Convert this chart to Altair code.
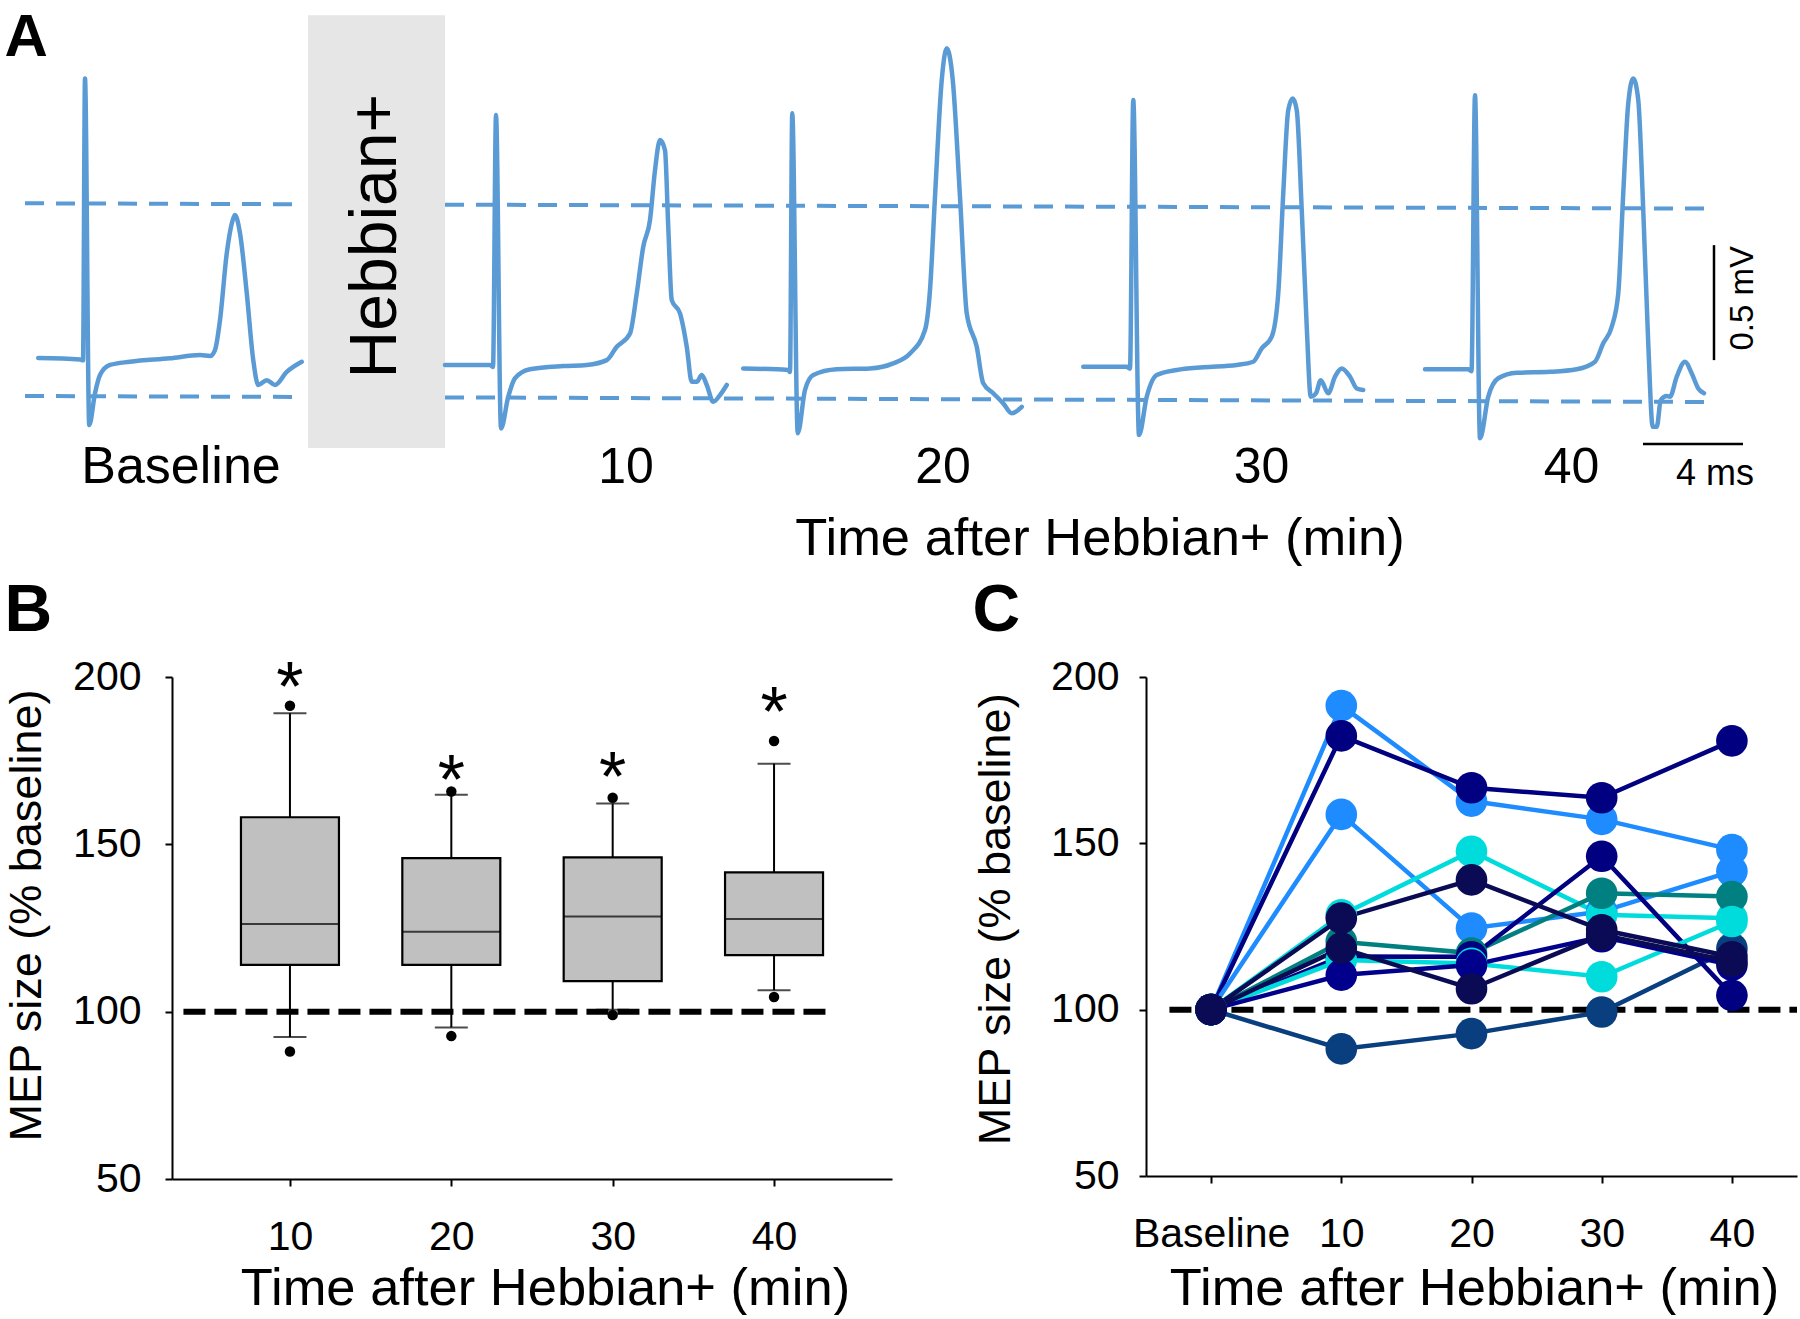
import altair as alt
import pandas as pd

FONT = "Liberation Sans"
TRACE_BLUE = "#5b9bd5"

# ---------------------------------------------------------------------------
# Panel A: single MEP sweeps (time in ms from the stimulus artefact, mV)
# ---------------------------------------------------------------------------
sweep_names = ["Baseline", "10", "20", "30", "40"]
sweep_onsets_ms = [3.4, 19.84, 31.69, 45.33, 59.0]

baseline_t = [-1.87, -0.2, -0.08, 0.0, 0.17, 0.4, 0.6, 1.0, 1.8, 3.4, 4.6, 5.0, 5.2, 5.4,
              5.67, 5.93, 6.0, 6.2, 6.47, 6.73, 6.93, 7.27, 7.6, 8.07, 8.67]
baseline_mv = [0.0, -0.006, -0.01, 1.216, -0.291, -0.153, -0.074, -0.03, -0.016, -0.001,
               0.013, 0.009, 0.035, 0.165, 0.455, 0.607, 0.622, 0.543, 0.283, -0.009,
               -0.117, -0.096, -0.117, -0.06, -0.016]

min10_t = [-2.04, -0.24, -0.12, 0.0, 0.2, 0.49, 0.76, 1.36, 2.69, 3.63, 4.43, 4.83, 5.36,
           5.63, 5.89, 6.16, 6.36, 6.56, 6.76, 6.89, 7.03, 7.36, 7.63, 7.83, 8.03, 8.23,
           8.43, 8.69, 8.96, 9.23]
min10_mv = [-0.03, -0.03, -0.039, 1.057, -0.306, -0.168, -0.088, -0.049, -0.035, -0.03,
            -0.009, 0.049, 0.107, 0.281, 0.484, 0.6, 0.817, 0.948, 0.904, 0.571, 0.252,
            0.194, 0.049, -0.103, -0.103, -0.074, -0.117, -0.19, -0.161, -0.117]

min20_t = [-1.96, -0.16, -0.09, 0.0, 0.22, 0.51, 0.84, 1.78, 3.11, 4.04, 4.71, 5.31, 5.51,
           5.71, 5.98, 6.18, 6.42, 6.71, 6.98, 7.38, 7.64, 8.04, 8.44, 8.78, 9.18]
min20_mv = [-0.045, -0.052, -0.061, 1.064, -0.327, -0.139, -0.074, -0.049, -0.045, -0.023,
            0.02, 0.122, 0.296, 0.701, 1.209, 1.347, 1.209, 0.701, 0.194, 0.049, -0.11,
            -0.153, -0.197, -0.24, -0.212]

min30_t = [-2.0, -0.26, -0.13, 0.0, 0.23, 0.54, 0.94, 1.74, 2.8, 4.14, 4.8, 5.14, 5.54, 5.8,
           6.0, 6.2, 6.38, 6.54, 6.74, 6.94, 7.1, 7.31, 7.5, 7.8, 8.07, 8.34, 8.67, 8.94, 9.2]
min30_mv = [-0.038, -0.038, -0.046, 1.122, -0.335, -0.168, -0.074, -0.052, -0.04, -0.03,
            -0.016, 0.042, 0.093, 0.281, 0.716, 1.078, 1.129, 1.078, 0.643, 0.136, -0.168,
            -0.153, -0.096, -0.153, -0.081, -0.045, -0.081, -0.132, -0.139]

min40_t = [-2.0, -0.27, -0.14, 0.0, 0.2, 0.53, 0.93, 1.67, 3.0, 4.07, 4.8, 5.13, 5.47, 5.73,
           5.93, 6.13, 6.33, 6.53, 6.73, 6.93, 7.11, 7.27, 7.43, 7.67, 7.8, 8.07, 8.4, 8.67,
           8.93, 9.16]
min40_mv = [-0.049, -0.049, -0.057, 1.143, -0.349, -0.168, -0.088, -0.064, -0.06, -0.049,
            -0.016, 0.064, 0.136, 0.281, 0.716, 1.107, 1.216, 1.122, 0.643, 0.064, -0.299,
            -0.299, -0.183, -0.165, -0.168, -0.081, -0.016, -0.067, -0.132, -0.153]

sweep_times = [baseline_t, min10_t, min20_t, min30_t, min40_t]
sweep_values = [baseline_mv, min10_mv, min20_mv, min30_mv, min40_mv]

# dashed guides at the baseline MEP peak / trough (segments either side of the box)
guide_x0 = [1.0, 17.8, 1.0, 17.8]
guide_x1 = [11.9, 68.4, 11.9, 68.4]
guide_y0 = [0.673, 0.667, -0.165, -0.171]
guide_y1 = [0.669, 0.650, -0.169, -0.191]

# conditioning block (ms / mV extent)
block_ms = [12.32, 17.8]
block_mv = [-0.391, 1.491]

scale_bar_mv = 0.5
scale_bar_ms = 4.0

# ---------------------------------------------------------------------------
# Panel B: group box plots (% of baseline MEP)
# ---------------------------------------------------------------------------
box_times = [10, 20, 30, 40]
box_q1 = [114.0, 114.0, 109.1, 116.9]
box_median = [126.2, 123.9, 128.4, 127.7]
box_q3 = [158.1, 145.9, 146.1, 141.6]
whisker_low = [92.4, 95.3, 100.6, 106.4]
whisker_high = [189.2, 164.8, 162.2, 174.1]
outlier_low = [88.1, 92.7, 99.0, 104.4]
outlier_high = [191.4, 165.8, 163.9, 180.9]
star_level = [198.7, 170.9, 172.0, 191.4]

# ---------------------------------------------------------------------------
# Panel C: individual participants (% of baseline MEP)
# ---------------------------------------------------------------------------
c_times = [0, 10, 20, 30, 40]
subject_ids = ["S1", "S2", "S3", "S4", "S5", "S6", "S7", "S8", "S9", "S10", "S11"]
subject_colors = ["#0a3f7f", "#1e8cff", "#000080", "#1e8cff", "#00dcdc", "#008080",
                  "#000080", "#00dcdc", "#00008c", "#0a0a55", "#0a0a55"]
subject_values = [
    [100, 88.2, 92.8, 99.3, 118.4],
    [100, 191.4, 162.7, 157.2, 148.1],
    [100, 182.3, 166.7, 163.7, 180.8],
    [100, 158.7, 124.5, 129.5, 141.6],
    [100, 128.5, 147.6, 128.5, 127.5],
    [100, 120.4, 117.0, 135.0, 134.0],
    [100, 116.0, 115.9, 146.1, 104.3],
    [100, 114.9, 113.9, 109.9, 126.5],
    [100, 110.4, 113.4, 121.9, 113.4],
    [100, 118.5, 106.3, 122.5, 114.5],
    [100, 127.5, 139.0, 124.0, 115.9],
]

# ===========================================================================
# Panel A chart
# (its plot area starts where panel B's does; earlier content overhangs left)
# ===========================================================================
A_W, A_H = 1628, 640
xa_scale = alt.Scale(domain=[6.88, 72], nice=False, zero=False)
ya_scale = alt.Scale(domain=[-1.226, 1.557], nice=False, zero=False)


def xa(field):
    return alt.X(f"{field}:Q", scale=xa_scale, axis=None)


def ya(field):
    return alt.Y(f"{field}:Q", scale=ya_scale, axis=None)


rows = []
for name, onset, ts, vs in zip(sweep_names, sweep_onsets_ms, sweep_times, sweep_values):
    for i, (t, v) in enumerate(zip(ts, vs)):
        rows.append({"sweep": name, "idx": i, "t": onset + t, "mv": v})
traces_df = pd.DataFrame(rows)

guides_df = pd.DataFrame({"x0": guide_x0, "x1": guide_x1, "y0": guide_y0, "y1": guide_y1})
block_df = pd.DataFrame({"x0": [block_ms[0]], "x1": [block_ms[1]],
                         "y0": [block_mv[0]], "y1": [block_mv[1]]})

# scale bars: vertical 0.5 mV, horizontal 4 ms
vbar_df = pd.DataFrame({"x0": [68.56], "x1": [68.56], "y0": [-0.009], "y1": [-0.009 + scale_bar_mv]})
hbar_df = pd.DataFrame({"x0": [65.72], "x1": [65.72 + scale_bar_ms], "y0": [-0.374], "y1": [-0.374]})

block = alt.Chart(block_df).mark_rect(color="#e6e6e6").encode(
    x=xa("x0"), x2="x1", y=ya("y0"), y2="y1")

guides = alt.Chart(guides_df).mark_rule(
    color=TRACE_BLUE, strokeWidth=4, strokeDash=[19, 12]).encode(
    x=xa("x0"), x2="x1", y=ya("y0"), y2="y1")

traces = alt.Chart(traces_df).mark_line(
    color=TRACE_BLUE, strokeWidth=4.5, interpolate="monotone",
    strokeJoin="round", strokeCap="round").encode(
    x=xa("t"), y=ya("mv"), detail="sweep:N", order="idx:Q")

bars = alt.Chart(pd.concat([vbar_df, hbar_df])).mark_rule(
    color="black", strokeWidth=2.5).encode(
    x=xa("x0"), x2="x1", y=ya("y0"), y2="y1")


def label(text, x, y, size, angle=0, bold=False, align="center", baseline="alphabetic"):
    df = pd.DataFrame({"x": [x], "y": [y], "label": [text]})
    return alt.Chart(df).mark_text(
        font=FONT, fontSize=size, angle=angle, align=align, baseline=baseline,
        fontWeight="bold" if bold else "normal", color="black").encode(
        x=xa("x"), y=ya("y"), text="label:N")


sweep_label_x = [7.24, 25.04, 37.72, 50.46, 62.86]
sweep_label_size = [52, 50, 50, 50, 50]
a_labels = [label(n, x, -0.5435, s)
            for n, x, s in zip(sweep_names, sweep_label_x, sweep_label_size)]

panel_a = alt.layer(
    block, guides, traces, bars,
    label("Hebbian+", 15.04, 0.530, 66, angle=270, baseline="middle"),
    *a_labels,
    label("Time after Hebbian+ (min)", 44.0, -0.855, 52.5),
    label("0.5 mV", 69.72, 0.26, 33, angle=270, baseline="middle"),
    label("4 ms", 68.6, -0.552, 36),
    label("A", 0.18, 1.313, 60, bold=True, align="left"),
    label("B", 0.18, -1.187, 66, bold=True, align="left"),
    label("C", 38.9, -1.187, 66, bold=True, align="left"),
).properties(width=A_W, height=A_H)

# ===========================================================================
# Panel B chart
# ===========================================================================
B_W, B_H = 720, 502
xb_scale = alt.Scale(domain=[3, 47], nice=False, zero=False)
yb_scale = alt.Scale(domain=[50, 200], nice=False, zero=False)
xb_axis = alt.Axis(values=[10, 20, 30, 40], format="d", title="Time after Hebbian+ (min)",
                   titleX=373, titleY=125, titleAlign="center", titleBaseline="alphabetic",
                   titleFontSize=52.5, labelPadding=31)
yb_axis = alt.Axis(values=[50, 100, 150, 200], format="d", title="MEP size (% baseline)",
                   titleX=-145.5, titleY=238, titleAngle=270, titleAlign="center",
                   titleBaseline="middle", titleFontSize=45, labelPadding=24)


def xb(field):
    return alt.X(f"{field}:Q", scale=xb_scale, axis=xb_axis)


def yb(field):
    return alt.Y(f"{field}:Q", scale=yb_scale, axis=yb_axis)


box_df = pd.DataFrame({"t": box_times, "q1": box_q1, "med": box_median, "q3": box_q3,
                       "lo": whisker_low, "hi": whisker_high})
out_df = pd.DataFrame({"t": box_times * 2, "v": outlier_low + outlier_high})
star_df = pd.DataFrame({"t": box_times, "v": star_level, "s": ["*"] * 4})
ref_b = pd.DataFrame({"x0": [3.4], "x1": [43.5], "v": [100]})

whiskers = alt.Chart(box_df).mark_rule(color="black", strokeWidth=2).encode(
    x=xb("t"), y=yb("lo"), y2="hi")
boxes = alt.Chart(box_df).mark_bar(
    size=98, color="#c0c0c0", stroke="black", strokeWidth=2.2).encode(
    x=xb("t"), y=yb("q1"), y2="q3")
medians = alt.Chart(box_df).mark_tick(
    orient="horizontal", size=98, thickness=2, color="black").encode(x=xb("t"), y=yb("med"))
caps_lo = alt.Chart(box_df).mark_tick(
    orient="horizontal", size=33, thickness=2, color="black").encode(x=xb("t"), y=yb("lo"))
caps_hi = alt.Chart(box_df).mark_tick(
    orient="horizontal", size=33, thickness=2, color="black").encode(x=xb("t"), y=yb("hi"))
ref_line_b = alt.Chart(ref_b).mark_rule(
    color="black", strokeWidth=6, strokeDash=[22, 9]).encode(
    x=xb("x0"), x2="x1", y=yb("v"))
outliers = alt.Chart(out_df).mark_circle(size=110, color="black", opacity=1).encode(
    x=xb("t"), y=yb("v"))
stars = alt.Chart(star_df).mark_text(
    font=FONT, fontSize=70, baseline="alphabetic", dy=30, color="black").encode(
    x=xb("t"), y=yb("v"), text="s:N")

panel_b = alt.layer(
    whiskers, boxes, medians, caps_lo, caps_hi, ref_line_b, outliers, stars
).properties(width=B_W, height=B_H)

# ===========================================================================
# Panel C chart
# ===========================================================================
C_W, C_H = 651, 499
xc_scale = alt.Scale(domain=[-5, 45], nice=False, zero=False)
yc_scale = alt.Scale(domain=[50, 200], nice=False, zero=False)
xc_axis = alt.Axis(values=c_times, title="Time after Hebbian+ (min)",
                   labelExpr="datum.value == 0 ? 'Baseline' : datum.label",
                   titleX=328, titleY=128, titleAlign="center", titleBaseline="alphabetic",
                   titleFontSize=52.5, labelPadding=31)
yc_axis = alt.Axis(values=[50, 100, 150, 200], format="d", title="MEP size (% baseline)",
                   titleX=-150.4, titleY=241.8, titleAngle=270, titleAlign="center",
                   titleBaseline="middle", titleFontSize=45, labelPadding=20)


def xc(field):
    return alt.X(f"{field}:Q", scale=xc_scale, axis=xc_axis)


def yc(field):
    return alt.Y(f"{field}:Q", scale=yc_scale, axis=yc_axis)


c_rows = []
for k, (sid, vals) in enumerate(zip(subject_ids, subject_values)):
    for t, v in zip(c_times, vals):
        c_rows.append({"subject": sid, "k": k, "t": t, "v": v})
c_df = pd.DataFrame(c_rows)
color_c = alt.Color("subject:N", scale=alt.Scale(domain=subject_ids, range=subject_colors),
                    legend=None)
ref_c = pd.DataFrame({"x0": [-3.2], "x1": [45], "v": [100]})

c_lines = alt.Chart(c_df).mark_line(strokeWidth=4.5).encode(
    x=xc("t"), y=yc("v"), color=color_c, detail="subject:N")
ref_line_c = alt.Chart(ref_c).mark_rule(
    color="black", strokeWidth=6, strokeDash=[22, 9]).encode(
    x=xc("x0"), x2="x1", y=yc("v"))
c_points = alt.Chart(c_df).mark_circle(size=1000, opacity=1).encode(
    x=xc("t"), y=yc("v"), color=color_c, order="k:Q")

panel_c = alt.layer(c_lines, ref_line_c, c_points).properties(width=C_W, height=C_H)

# ===========================================================================
# Figure assembly
# ===========================================================================
bottom_row = alt.hconcat(panel_b, panel_c, spacing=254, bounds="flush")

chart = alt.vconcat(panel_a, bottom_row, spacing=10).properties(
    padding={"left": 4, "top": 0, "right": 0, "bottom": 0}, background="white"
).configure_view(stroke=None).configure_axis(
    grid=False,
    domainColor="black", domainWidth=2,
    tickColor="black", tickWidth=2, tickSize=7,
    labelFont=FONT, labelFontSize=41, labelColor="black",
    titleFont=FONT, titleFontWeight="normal", titleColor="black",
)

chart.save("out.html", embed_options={"renderer": "svg", "actions": False})
